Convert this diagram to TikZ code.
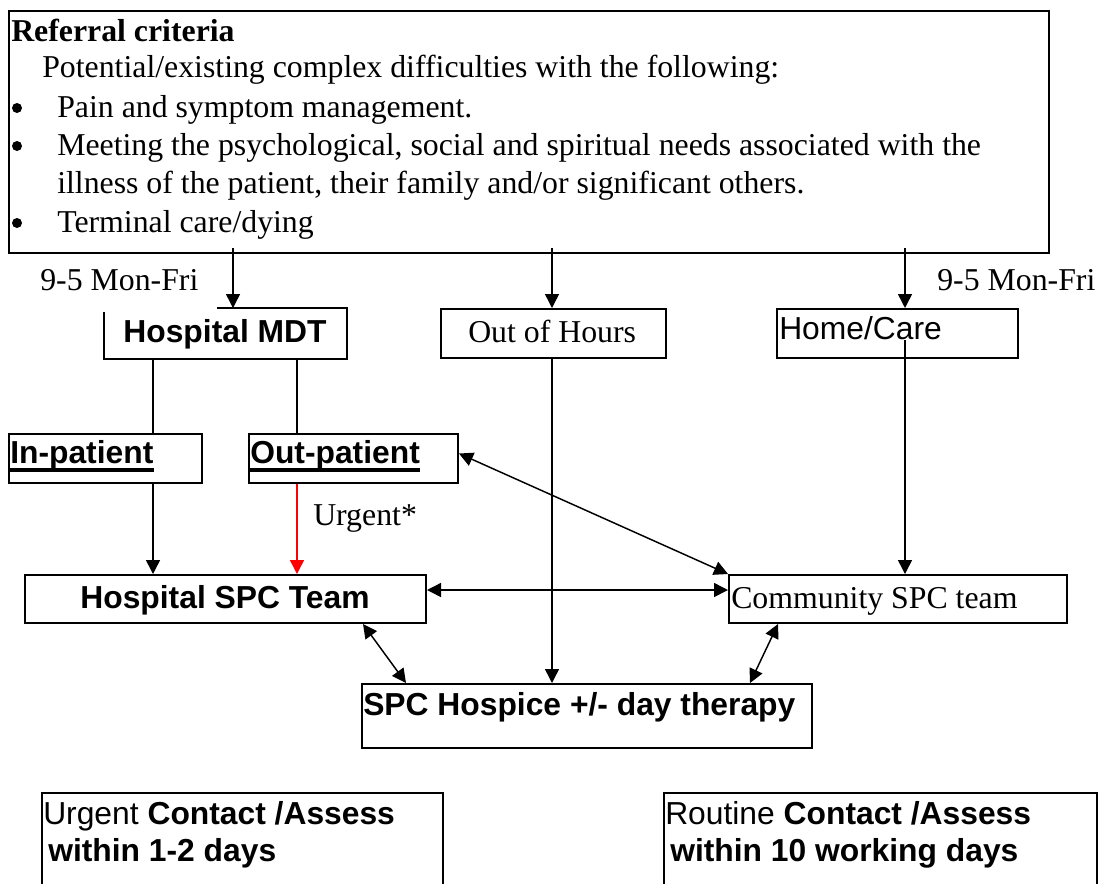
\documentclass[tikz,border=0pt]{standalone}
\usepackage{fontspec}
\setmainfont{Liberation Serif}
\newfontfamily\arialfam{Liberation Sans}
\usetikzlibrary{arrows.meta,calc}
\newcommand\dfs{\fontsize{23.85pt}{28pt}\selectfont}
\begin{document}
\begin{tikzpicture}[x=0.75pt,y=-0.75pt,
  box/.style={draw,line width=1.5pt,inner sep=0pt,anchor=north west},
  conn/.style={line width=1.1pt},
  arr/.style={conn,-{Triangle[length=10.5pt,width=10.5pt]}},
  darr/.style={conn,{Triangle[length=10.5pt,width=10.5pt]}-{Triangle[length=10.5pt,width=10.5pt]}},
  txt/.style={inner sep=0pt,anchor=base west,font=\dfs},
  sans/.style={txt,font=\dfs\arialfam},
  bsans/.style={txt,font=\dfs\arialfam\bfseries},
  bul/.style={circle,fill,inner sep=0pt,minimum size=7.5pt},
  ulline/.style={line width=2.5pt}]
\useasboundingbox (0,0) rectangle (1104,883);

% boxes
\node[box,minimum width=780pt,minimum height=181.5pt] (top) at (8,10) {};
\node[box,draw=none,minimum width=180.75pt,minimum height=36.75pt] (mdt) at (104,308) {};
\draw[line width=1.5pt] ($(mdt.north west)+(113,0)$) -- (mdt.north east) -- (mdt.south east) -- (mdt.south west) -- ($(mdt.north west)+(0,4)$);
\node[box,minimum width=168.75pt,minimum height=36.75pt] (ooh) at (440,308) {};
\node[box,minimum width=180.75pt,minimum height=36.75pt] (home) at (776,308) {};
\node[box,minimum width=144.75pt,minimum height=36.75pt] (inpt) at (8,433) {};
\node[box,minimum width=156.75pt,minimum height=36.75pt] (outpt) at (248,433) {};
\node[box,minimum width=300.75pt,minimum height=36pt] (hspc) at (24,574) {};
\node[box,minimum width=253.5pt,minimum height=36pt] (cspc) at (728,574) {};
\node[box,minimum width=337.5pt,minimum height=48pt] (hosp) at (361,683) {};
\node[box,minimum width=300.75pt,minimum height=84pt] (urg) at (41,792) {};
\node[box,minimum width=324.75pt,minimum height=84pt] (rout) at (663,792) {};

% top box text
\node[txt,font=\dfs\bfseries] (t0) at (11,41) {Referral criteria};
\node[txt] (t1) at (42,77) {Potential/existing complex difficulties with the following:};
\node[bul] (b1) at (17,108) {};
\node[txt] (t2) at (57,117) {Pain and symptom management.};
\node[bul] (b2) at (17,146) {};
\node[txt] (t3) at (57,155) {Meeting the psychological, social and spiritual needs associated with the};
\node[txt] (t4) at (57,193) {illness of the patient, their family and/or significant others.};
\node[bul] (b3) at (17,223) {};
\node[txt] (t5) at (57,232) {Terminal care/dying};

% labels
\node[txt] (lf) at (40,290) {9-5 Mon-Fri};
\node[txt] (rf) at (937,290) {9-5 Mon-Fri};
\node[bsans,anchor=base] (tmdt) at (225,342) {Hospital MDT};
\node[txt] (tooh) at (468,342) {Out of Hours};
\node[sans] (thome) at (779,339) {Home/Care};
\node[bsans] (tin) at (10,463) {In-patient};
\draw[ulline] ($(tin.base west)+(0,7)$) -- ($(tin.base east)+(0,7)$);
\node[bsans] (tout) at (250,463) {Out-patient};
\draw[ulline] ($(tout.base west)+(0,7)$) -- ($(tout.base east)+(0,7)$);
\node[txt] (turg) at (313,525) {Urgent*};
\node[bsans,anchor=base] (thspc) at (225,608) {Hospital SPC Team};
\node[txt] (tcspc) at (731,608) {Community SPC team};
\node[bsans] (thosp) at (363,715) {SPC Hospice +/- day therapy};
\node[sans] (tu1) at (43,824) {Urgent \textbf{Contact /Assess}};
\node[bsans] (tu2) at (48,861) {within 1-2 days};
\node[sans] (tr1) at (665,824) {Routine \textbf{Contact /Assess}};
\node[bsans] (tr2) at (670,861) {within 10 working days};

% x positions of connectors
\coordinate (xA) at (233,0);
\coordinate (xB) at (552,0);
\coordinate (xC) at (905,0);
\coordinate (xD) at (153,0);
\coordinate (xE) at (297,0);
\coordinate (xF) at (363,0);
\coordinate (xG) at (406,0);
\coordinate (xH) at (778,0);
\coordinate (xI) at (750,0);
\coordinate (yH) at (0,590);
\coordinate (hcin) at (905,340);

% connectors
\draw[arr] ($(top.south -| xA)+(0,-6)$) -- (mdt.north -| xA);
\draw[arr] ($(top.south -| xB)+(0,-6)$) -- (ooh.north -| xB);
\draw[arr] ($(top.south -| xC)+(0,-6)$) -- (home.north -| xC);
\draw[conn] (mdt.south -| xD) -- (inpt.north -| xD);
\draw[conn] (mdt.south -| xE) -- (outpt.north -| xE);
\draw[arr] (inpt.south -| xD) -- (hspc.north -| xD);
\draw[arr,red] (outpt.south -| xE) -- (hspc.north -| xE);
\draw[arr] (ooh.south -| xB) -- (hosp.north -| xB);
\draw[arr] (hcin) -- (cspc.north -| xC);
\draw[darr] (hspc.east |- yH) -- (cspc.west |- yH);
\draw[darr] ($(outpt.east)+(0,-5)$) -- (cspc.north west);
\draw[darr] (hspc.south -| xF) -- (hosp.north -| xG);
\draw[darr] (cspc.south -| xH) -- (hosp.north -| xI);
\end{tikzpicture}
\end{document}
